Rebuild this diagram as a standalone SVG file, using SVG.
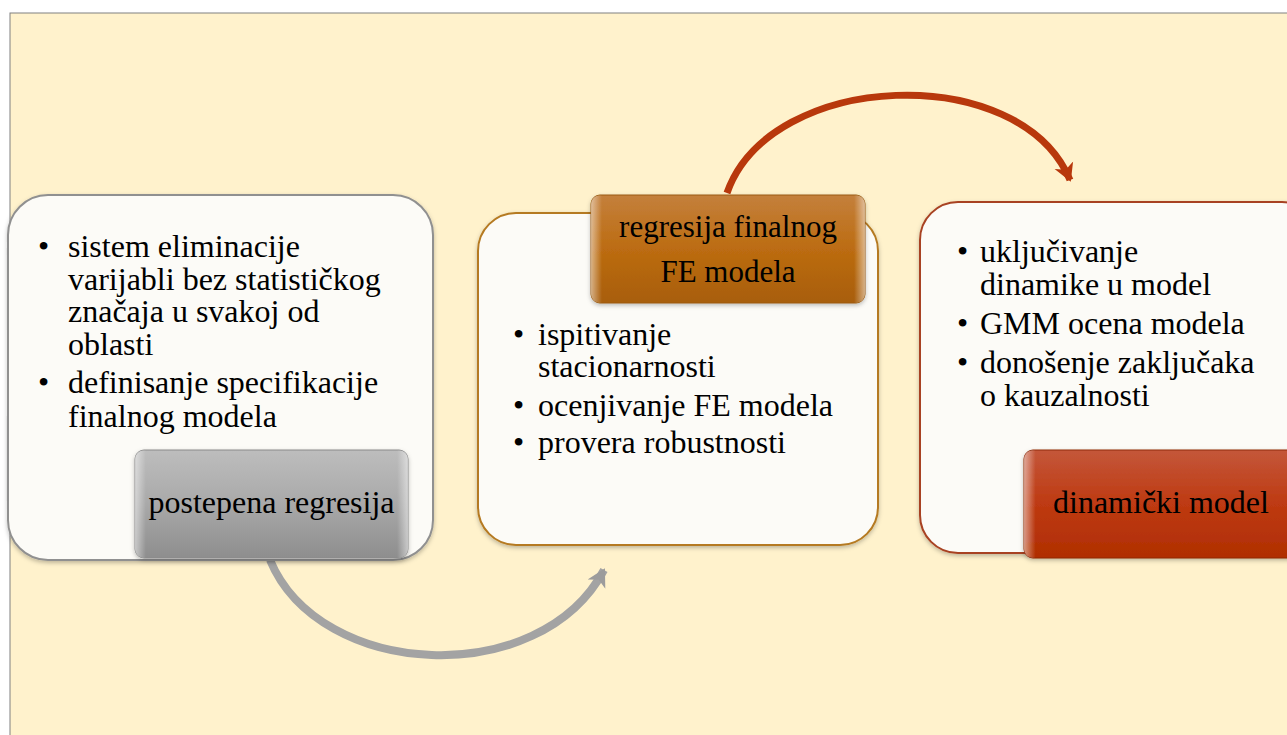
<svg xmlns="http://www.w3.org/2000/svg" width="1287" height="735" viewBox="0 0 1287 735">
<style>
.t{font-family:"Liberation Serif","Times New Roman",serif;font-size:32px;fill:#000}
.card{fill:#FCFBF7;stroke-width:2}
</style>
<defs>
<linearGradient id="gGray" x1="0" y1="0" x2="0" y2="1">
<stop offset="0" stop-color="#BDBDBD"/><stop offset="0.5" stop-color="#A9A9A9"/><stop offset="1" stop-color="#8E8E8E"/>
</linearGradient>
<linearGradient id="gOrange" x1="0" y1="0" x2="0" y2="1">
<stop offset="0" stop-color="#C4803C"/><stop offset="0.5" stop-color="#BC6C12"/><stop offset="1" stop-color="#A85E08"/>
</linearGradient>
<linearGradient id="gRed" x1="0" y1="0" x2="0" y2="1">
<stop offset="0" stop-color="#C4573A"/><stop offset="0.5" stop-color="#BE3A12"/><stop offset="1" stop-color="#B02E02"/>
</linearGradient>
<linearGradient id="gSide" x1="0" y1="0" x2="1" y2="0">
<stop offset="0" stop-color="#fff" stop-opacity="0.5"/><stop offset="0.04" stop-color="#fff" stop-opacity="0"/>
<stop offset="0.96" stop-color="#fff" stop-opacity="0"/><stop offset="1" stop-color="#fff" stop-opacity="0.5"/>
</linearGradient>
<filter id="sh" x="-10%" y="-10%" width="120%" height="130%">
<feDropShadow dx="0" dy="2" stdDeviation="2" flood-color="#000" flood-opacity="0.25"/>
</filter>
<marker id="mGray" markerUnits="userSpaceOnUse" markerWidth="24" markerHeight="24" refX="16" refY="12" orient="auto">
<path d="M0,2 L18,12 L0,22 L5,12 Z" fill="#9C9C9C"/>
</marker>
<marker id="mRed" markerUnits="userSpaceOnUse" markerWidth="24" markerHeight="24" refX="16" refY="12" orient="auto">
<path d="M0,2 L18,12 L0,22 L5,12 Z" fill="#B8380C"/>
</marker>
</defs>
<rect x="0" y="0" width="1287" height="735" fill="#FFFFFF"/>
<rect x="10" y="13" width="1285" height="730" fill="#FFF2CC" stroke="#808080" stroke-width="1"/>

<g id="connectors">
<path d="M270,560 C320,680 540,690 604,570" fill="none" stroke="#A3A3A3" stroke-width="8" marker-end="url(#mGray)"/>
<path d="M727,193 C770,70 1020,60 1070,180" fill="none" stroke="#B8380C" stroke-width="7" marker-end="url(#mRed)"/>
</g>

<g id="node1">
<rect class="card" x="8" y="195" width="425" height="365" rx="40" stroke="#909090" filter="url(#sh)"/>
<text class="t" x="38" y="257">•</text>
<text class="t" x="68" y="257">sistem eliminacije</text>
<text class="t" x="68" y="290">varijabli bez statističkog</text>
<text class="t" x="68" y="322">značaja u svakoj od</text>
<text class="t" x="68" y="355">oblasti</text>
<text class="t" x="38" y="393">•</text>
<text class="t" x="68" y="393">definisanje specifikacije</text>
<text class="t" x="68" y="427">finalnog modela</text>
</g>
<g id="label1">
<rect x="135" y="450" width="273" height="108" rx="9" fill="url(#gGray)" stroke="#8A8A8A" stroke-width="1" filter="url(#sh)"/>
<rect x="135" y="450" width="273" height="108" rx="9" fill="url(#gSide)"/>
<text class="t" x="271.5" y="513" text-anchor="middle">postepena regresija</text>
</g>

<g id="node2">
<rect class="card" x="478" y="213" width="400" height="332" rx="38" stroke="#B57A22" filter="url(#sh)"/>
<text class="t" x="513" y="345">•</text>
<text class="t" x="538" y="345">ispitivanje</text>
<text class="t" x="538" y="377">stacionarnosti</text>
<text class="t" x="513" y="416">•</text>
<text class="t" x="538" y="416">ocenjivanje FE modela</text>
<text class="t" x="513" y="453">•</text>
<text class="t" x="538" y="453">provera robustnosti</text>
</g>
<g id="label2">
<rect x="591" y="195" width="274" height="108" rx="9" fill="url(#gOrange)" stroke="#9A5A10" stroke-width="1" filter="url(#sh)"/>
<rect x="591" y="195" width="274" height="108" rx="9" fill="url(#gSide)"/>
<text class="t" x="728" y="237" text-anchor="middle" font-size="31" style="font-size:31px">regresija finalnog</text>
<text class="t" x="728" y="282" text-anchor="middle" style="font-size:31px">FE modela</text>
</g>

<g id="node3">
<rect class="card" x="920" y="202" width="400" height="351" rx="38" stroke="#A84222" filter="url(#sh)"/>
<text class="t" x="957" y="262">•</text>
<text class="t" x="980" y="262">uključivanje</text>
<text class="t" x="980" y="295">dinamike u model</text>
<text class="t" x="957" y="334">•</text>
<text class="t" x="980" y="334">GMM ocena modela</text>
<text class="t" x="957" y="373">•</text>
<text class="t" x="980" y="373">donošenje zaključaka</text>
<text class="t" x="980" y="406">o kauzalnosti</text>
</g>
<g id="label3">
<rect x="1024" y="450" width="290" height="108" rx="9" fill="url(#gRed)" stroke="#902A08" stroke-width="1" filter="url(#sh)"/>
<rect x="1024" y="450" width="290" height="108" rx="9" fill="url(#gSide)"/>
<text class="t" x="1053" y="513">dinamički model</text>
</g>
</svg>
